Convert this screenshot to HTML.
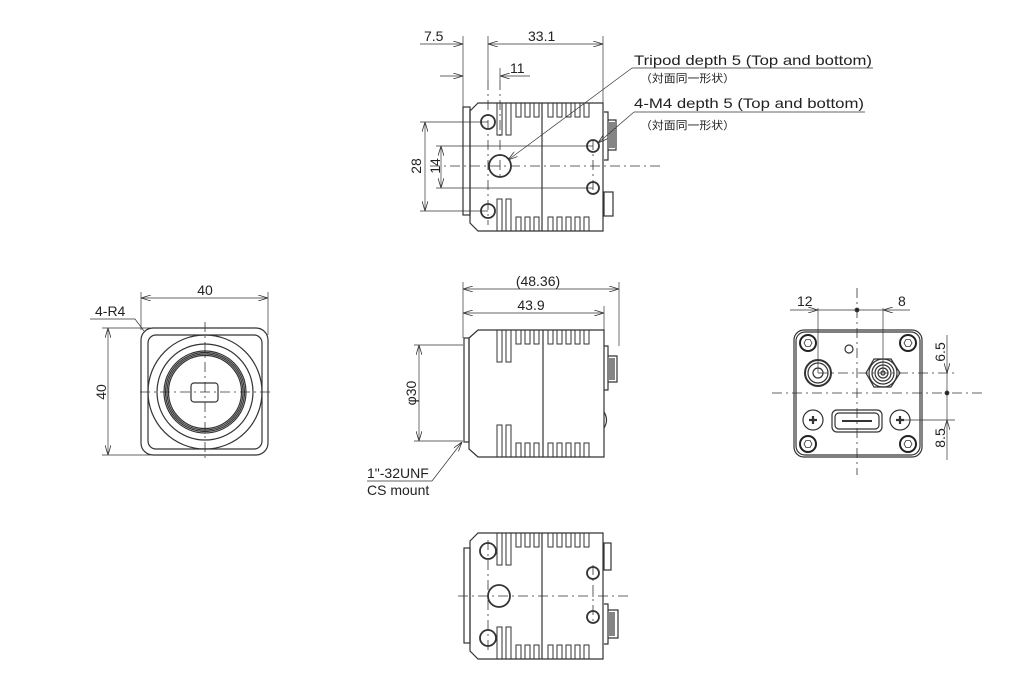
<!DOCTYPE html>
<html><head><meta charset="utf-8"><style>
html,body{margin:0;padding:0;background:#fff;}
svg{display:block;}
text{font-family:"Liberation Sans","Noto Sans CJK JP",sans-serif;fill:#222;}
</style></head><body>
<svg width="1030" height="700" viewBox="0 0 1030 700" xmlns="http://www.w3.org/2000/svg">
<defs>
<marker id="a" viewBox="0 0 10 6" refX="10" refY="3" markerWidth="10" markerHeight="6" orient="auto-start-reverse" markerUnits="userSpaceOnUse"><path d="M0,0 L10,3 L0,6" fill="none" stroke="#333" stroke-width="0.8"/></marker>
<g id="fins" fill="none" stroke="#333" stroke-width="1">
<path d="M497,0 V32 H502 V0 M506,0 V32 H511 V0"/>
<path d="M516,0 V14 H521 V0 M525,0 V14 H530 V0 M534,0 V14 H539 V0 M548,0 V14 H553 V0 M557,0 V14 H562 V0 M566,0 V14 H571 V0 M575,0 V14 H580 V0 M584,0 V14 H589 V0"/>
</g>
<g id="hex"><circle r="8" fill="none" stroke="#222" stroke-width="2"/><polygon points="4,0 2,3.5 -2,3.5 -4,0 -2,-3.5 2,-3.5" fill="none" stroke="#333" stroke-width="0.8"/></g>
</defs>

<g fill="none" stroke="#333" stroke-width="1.2">
<!-- ===== TOP VIEW ===== -->
<rect x="463" y="107" width="7" height="108"/>
<path d="M470,111 L478,103 H603 V231 H478 L470,223 Z"/>
<line x1="542" y1="103" x2="542" y2="231"/>
<use href="#fins" transform="translate(0,103)"/>
<use href="#fins" transform="translate(0,231) scale(1,-1)"/>
<g stroke-width="1.8">
<circle cx="488" cy="122" r="7"/><circle cx="488" cy="211" r="7"/>
<circle cx="500" cy="166" r="11"/>
<circle cx="593" cy="146" r="6"/><circle cx="593" cy="188" r="6"/>
</g>
<path d="M604,112 h4 v48 h-4 M608,120 h8 v30 h-8 M610,122 v26 M612,122 v26 M614,122 v26"/>
<rect x="604" y="192" width="9" height="24"/>
<g stroke-dasharray="10,4,2,4" stroke-width="0.8">
<line x1="430" y1="166" x2="660" y2="166"/>
<line x1="488" y1="80" x2="488" y2="225"/>
<line x1="500" y1="80" x2="500" y2="180"/>
<line x1="593" y1="140" x2="593" y2="195"/>
</g>
<g stroke-width="0.7">
<line x1="463" y1="36" x2="463" y2="107"/><line x1="488" y1="36" x2="488" y2="80"/>
<line x1="603" y1="36" x2="603" y2="103"/><line x1="500" y1="68" x2="500" y2="80"/>
<line x1="420" y1="44" x2="463" y2="44" marker-end="url(#a)"/>
<line x1="488" y1="44" x2="603" y2="44" marker-start="url(#a)" marker-end="url(#a)"/>
<line x1="440" y1="76" x2="463" y2="76" marker-end="url(#a)"/>
<line x1="500" y1="76" x2="530" y2="76" marker-start="url(#a)"/>
<line x1="420" y1="122" x2="488" y2="122"/><line x1="420" y1="211" x2="488" y2="211"/>
<line x1="425" y1="122" x2="425" y2="211" marker-start="url(#a)" marker-end="url(#a)"/>
<line x1="436" y1="146" x2="593" y2="146"/><line x1="436" y1="188" x2="593" y2="188"/>
<line x1="441" y1="146" x2="441" y2="188" marker-start="url(#a)" marker-end="url(#a)"/>
<line x1="632" y1="68" x2="508" y2="160" marker-end="url(#a)"/>
<line x1="632" y1="68" x2="873" y2="68"/>
<line x1="634" y1="112" x2="598" y2="143" marker-end="url(#a)"/>
<line x1="634" y1="112" x2="865" y2="112"/>
</g>

<!-- ===== SIDE VIEW (middle) ===== -->
<rect x="464" y="338" width="5" height="104"/>
<path d="M469,338 L478,330 H604 V457 H478 L469,449 Z"/>
<line x1="543" y1="330" x2="543" y2="457"/>
<use href="#fins" transform="translate(0,330)"/>
<use href="#fins" transform="translate(0,457) scale(1,-1)"/>
<path d="M604,346 h4 v44 h-4 M608,356 h9 v26 h-9 M610,358 v22 M612,358 v22 M614,358 v22"/>
<path d="M604,412 q5,8 0,16"/>
<g stroke-width="0.7">
<line x1="463" y1="282" x2="463" y2="338"/><line x1="619" y1="282" x2="619" y2="346"/>
<line x1="604" y1="306" x2="604" y2="330"/>
<line x1="463" y1="289" x2="619" y2="289" marker-start="url(#a)" marker-end="url(#a)"/>
<line x1="463" y1="313" x2="604" y2="313" marker-start="url(#a)" marker-end="url(#a)"/>
<line x1="414" y1="345" x2="463" y2="345"/><line x1="414" y1="441" x2="463" y2="441"/>
<line x1="419" y1="345" x2="419" y2="441" marker-start="url(#a)" marker-end="url(#a)"/>
<line x1="432" y1="481" x2="462" y2="442" marker-end="url(#a)"/>
<line x1="367" y1="481" x2="432" y2="481"/>
</g>

<!-- ===== FRONT VIEW (left) ===== -->
<rect x="141" y="328" width="127" height="127" rx="12"/>
<rect x="148" y="335" width="114" height="114" rx="8"/>
<circle cx="205" cy="392" r="57"/>
<circle cx="205" cy="392" r="48"/>
<circle cx="205" cy="392" r="41"/>
<circle cx="205" cy="392" r="39.5"/>
<circle cx="205" cy="392" r="38"/>
<circle cx="205" cy="392" r="36.5"/>
<rect x="191" y="383" width="27" height="19" rx="3"/>
<g stroke-dasharray="10,4,2,4" stroke-width="0.8">
<line x1="140" y1="392" x2="272" y2="392"/><line x1="205" y1="322" x2="205" y2="462"/>
</g>
<g stroke-width="0.7">
<line x1="141" y1="292" x2="141" y2="330"/><line x1="268" y1="292" x2="268" y2="335"/>
<line x1="141" y1="298" x2="268" y2="298" marker-start="url(#a)" marker-end="url(#a)"/>
<line x1="102" y1="328" x2="150" y2="328"/><line x1="102" y1="455" x2="150" y2="455"/>
<line x1="108" y1="328" x2="108" y2="455" marker-start="url(#a)" marker-end="url(#a)"/>
<polyline points="90,319 135,319 144,331"/>
</g>

<!-- ===== BACK VIEW (right) ===== -->
<rect x="794" y="330" width="128" height="127" rx="10"/>
<rect x="796" y="332" width="124" height="123" rx="9"/>
<use href="#hex" transform="translate(808,343)"/><use href="#hex" transform="translate(908,343)"/>
<use href="#hex" transform="translate(808,444)"/><use href="#hex" transform="translate(908,444)"/>
<circle cx="849" cy="349" r="4"/>
<circle cx="818" cy="373" r="13" stroke-width="2"/><circle cx="818" cy="373" r="10"/><circle cx="818" cy="373" r="5"/>
<polygon points="866,373 874,359 891,359 900,373 891,387 874,387"/>
<circle cx="883" cy="373" r="14"/><circle cx="883" cy="373" r="11"/><circle cx="883" cy="373" r="8"/><circle cx="883" cy="373" r="5"/><circle cx="883" cy="373" r="2"/>
<rect x="832" y="410" width="50" height="22" rx="5"/>
<rect x="835" y="413" width="44" height="16" rx="4"/>
<line x1="842" y1="421" x2="872" y2="421" stroke-width="2"/>
<circle cx="813" cy="420" r="10"/><path d="M809,420 h8 M813,416 v8" stroke-width="2.2"/>
<circle cx="900" cy="420" r="10"/><path d="M896,420 h8 M900,416 v8" stroke-width="2.2"/>
<g stroke-dasharray="10,4,2,4" stroke-width="0.8">
<line x1="772" y1="393" x2="985" y2="393"/><line x1="857" y1="288" x2="857" y2="475"/>
<line x1="818" y1="373" x2="955" y2="373"/>
</g>
<g stroke-width="0.7">
<line x1="818" y1="308" x2="818" y2="373"/><line x1="883" y1="308" x2="883" y2="373"/>
<line x1="790" y1="310" x2="818" y2="310" marker-end="url(#a)"/>
<line x1="818" y1="310" x2="883" y2="310"/>
<line x1="910" y1="310" x2="883" y2="310" marker-end="url(#a)"/>
<line x1="900" y1="420" x2="955" y2="420"/>
<line x1="947" y1="335" x2="947" y2="373" marker-end="url(#a)"/>
<line x1="947" y1="373" x2="947" y2="420"/>
<line x1="947" y1="460" x2="947" y2="420" marker-end="url(#a)"/>
</g>
<circle cx="857" cy="310" r="1.8" fill="#222"/><circle cx="947" cy="393" r="1.8" fill="#222"/>

<!-- ===== BOTTOM VIEW ===== -->
<rect x="464" y="548" width="6" height="95"/>
<path d="M470,541 L478,533 H603 V659 H478 L470,651 Z"/>
<line x1="542" y1="533" x2="542" y2="659"/>
<use href="#fins" transform="translate(0,533)"/>
<use href="#fins" transform="translate(0,659) scale(1,-1)"/>
<g stroke-width="1.8">
<circle cx="488" cy="551" r="8"/><circle cx="488" cy="638" r="8"/>
<circle cx="499" cy="596" r="11"/>
<circle cx="593" cy="573" r="6"/><circle cx="593" cy="617" r="6"/>
</g>
<rect x="604" y="543" width="7" height="27"/>
<path d="M604,604 h4 v40 h-4 M608,610 h10 v28 h-10 M610,612 v24 M612,612 v24 M614,612 v24"/>
<g stroke-dasharray="10,4,2,4" stroke-width="0.8">
<line x1="458" y1="596" x2="630" y2="596"/>
<line x1="488" y1="540" x2="488" y2="650"/>
<line x1="593" y1="565" x2="593" y2="625"/>
</g>
</g>

<!-- TEXT -->
<g font-size="14">
<text x="424" y="41">7.5</text>
<text x="528" y="41">33.1</text>
<text x="510" y="73">11</text>
<text transform="translate(421,166) rotate(-90)" text-anchor="middle">28</text>
<text transform="translate(440,166) rotate(-90)" text-anchor="middle">14</text>
<text x="634" y="65" textLength="238" lengthAdjust="spacingAndGlyphs">Tripod depth 5  (Top and bottom)</text>
<text x="634" y="108" textLength="230" lengthAdjust="spacingAndGlyphs">4-M4 depth 5  (Top and bottom)</text>
<text x="538" y="286" text-anchor="middle">(48.36)</text>
<text x="531" y="310" text-anchor="middle">43.9</text>
<text transform="translate(416,393) rotate(-90)" text-anchor="middle">φ30</text>
<text x="367" y="478">1"-32UNF</text>
<text x="367" y="495">CS mount</text>
<text x="205" y="295" text-anchor="middle">40</text>
<text transform="translate(106,392) rotate(-90)" text-anchor="middle">40</text>
<text x="95" y="316">4-R4</text>
<text x="797" y="306">12</text>
<text x="898" y="306">8</text>
<text transform="translate(945,352) rotate(-90)" text-anchor="middle">6.5</text>
<text transform="translate(945,438) rotate(-90)" text-anchor="middle">8.5</text>
</g>
<g font-size="11">
<text x="640" y="82" textLength="95" lengthAdjust="spacingAndGlyphs">（対面同一形状）</text>
<text x="640" y="129" textLength="95" lengthAdjust="spacingAndGlyphs">（対面同一形状）</text>
</g>
</svg>
</body></html>
